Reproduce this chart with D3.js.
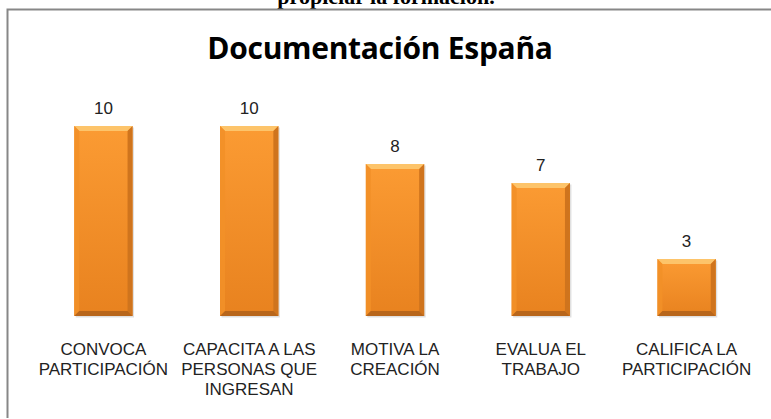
<!DOCTYPE html>
<html>
<head>
<meta charset="utf-8">
<script src="https://cdn.jsdelivr.net/npm/d3@7"></script>
<style>
  body { margin: 0; background: #fff; }
  svg { display: block; }
</style>
</head>
<body>
<div id="chart"></div>
<script>
// data
const categories = [
  ['CONVOCA', 'PARTICIPACIÓN'],
  ['CAPACITA A LAS', 'PERSONAS QUE', 'INGRESAN'],
  ['MOTIVA LA', 'CREACIÓN'],
  ['EVALUA EL', 'TRABAJO'],
  ['CALIFICA LA', 'PARTICIPACIÓN']
];
const values = [10, 10, 8, 7, 3];
const chartTitle = 'Documentación España';
const pageCaption = 'propiciar la formación.';

const width = 771;
const height = 419;

const svg = d3.select('#chart').append('svg')
  .attr('width', width)
  .attr('height', height);

// gradient for the bar faces
const defs = svg.append('defs');
const grad = defs.append('linearGradient')
  .attr('id', 'barFace')
  .attr('x1', 0).attr('y1', 0).attr('x2', 0).attr('y2', 1);
grad.append('stop').attr('offset', '0%').attr('stop-color', '#fb9b33');
grad.append('stop').attr('offset', '100%').attr('stop-color', '#e8821f');

// caption of the document, cut at the top
svg.append('text')
  .attr('x', 386)
  .attr('y', 4)
  .attr('text-anchor', 'middle')
  .style('font-family', '"Liberation Serif", serif')
  .style('font-weight', 'bold')
  .style('font-size', '22px')
  .text(pageCaption);

// chart frame (runs off right and bottom)
svg.append('path')
  .attr('d', 'M7.5,' + (height - 1) + ' V9.5 H' + (width + 2))
  .attr('fill', 'none')
  .attr('stroke', '#878787')
  .attr('stroke-width', 2);

svg.append('text')
  .attr('x', 380)
  .attr('y', 59)
  .attr('text-anchor', 'middle')
  .style('font-family', '"Open Sans", sans-serif')
  .style('font-weight', 'bold')
  .style('font-size', '30px')
  .style('letter-spacing', '-0.3px')
  .text(chartTitle);

const x = d3.scaleBand()
  .domain(d3.range(categories.length))
  .range([30.5, 759.5])
  .paddingInner(0.6)
  .paddingOuter(0.3);

const y = d3.scaleLinear()
  .domain([0, 10])
  .range([316, 126]);

const bev = 5;
const bars = svg.append('g').selectAll('g')
  .data(values)
  .enter().append('g');

// soft shadow
bars.append('rect')
  .attr('x', (d, i) => x(i) + 1.5)
  .attr('y', d => y(d) + 1.5)
  .attr('width', x.bandwidth())
  .attr('height', d => y(0) - y(d))
  .attr('fill', '#000')
  .attr('opacity', 0.12);

bars.append('rect')
  .attr('x', (d, i) => x(i))
  .attr('y', d => y(d))
  .attr('width', x.bandwidth())
  .attr('height', d => y(0) - y(d))
  .attr('fill', 'url(#barFace)');

function bevel (side) {
  return function (d, i) {
    const x0 = x(i);
    const x1 = x(i) + x.bandwidth();
    const y0 = y(d);
    const y1 = y(0);
    if (side === 'top') {
      return [[x0, y0], [x1, y0], [x1 - bev, y0 + bev], [x0 + bev, y0 + bev]].join(' ');
    }
    if (side === 'left') {
      return [[x0, y0], [x0 + bev, y0 + bev], [x0 + bev, y1 - bev], [x0, y1]].join(' ');
    }
    if (side === 'right') {
      return [[x1, y0], [x1 - bev, y0 + bev], [x1 - bev, y1 - bev], [x1, y1]].join(' ');
    }
    return [[x0, y1], [x0 + bev, y1 - bev], [x1 - bev, y1 - bev], [x1, y1]].join(' ');
  };
}

bars.append('polygon').attr('points', bevel('top')).attr('fill', '#fdc46a');
bars.append('polygon').attr('points', bevel('left')).attr('fill', '#f29028').attr('opacity', 0.9);
bars.append('polygon').attr('points', bevel('right')).attr('fill', '#cf741d');
bars.append('polygon').attr('points', bevel('bottom')).attr('fill', '#b8661b');

// value labels
svg.append('g').selectAll('text')
  .data(values)
  .enter().append('text')
    .attr('x', (d, i) => x(i) + x.bandwidth() / 2)
    .attr('y', d => y(d) - 12)
    .attr('text-anchor', 'middle')
    .style('font-family', '"Liberation Sans Narrow", "Liberation Sans", sans-serif')
    .style('font-size', '17px')
    .style('fill', '#222')
    .text(d => d);

// category labels
const labels = svg.append('g').selectAll('text')
  .data(categories)
  .enter().append('text')
    .attr('text-anchor', 'middle')
    .style('font-family', '"Liberation Sans Narrow", "Liberation Sans", sans-serif')
    .style('font-size', '17px')
    .style('fill', '#222');

labels.selectAll('tspan')
  .data((d, i) => d.map(line => ({line: line, i: i})))
  .enter().append('tspan')
    .attr('x', d => x(d.i) + x.bandwidth() / 2)
    .attr('y', (d, j) => 355 + j * 20)
    .text(d => d.line);
</script>
</body>
</html>
